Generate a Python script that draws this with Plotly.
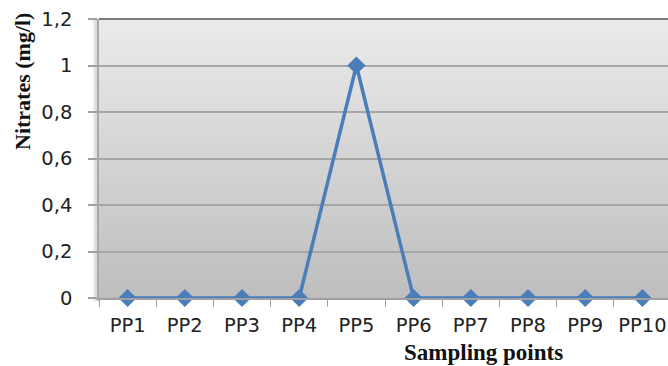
import plotly.graph_objects as go

categories = ["PP1", "PP2", "PP3", "PP4", "PP5", "PP6", "PP7", "PP8", "PP9", "PP10"]
nitrates = [0, 0, 0, 0, 1, 0, 0, 0, 0, 0]
y_tickvals = [0, 0.2, 0.4, 0.6, 0.8, 1.0, 1.2]
y_ticktext = ["0", "0,2", "0,4", "0,6", "0,8", "1", "1,2"]
x_title = "Sampling points"
y_title = "Nitrates (mg/l)"

fig = go.Figure()
fig.add_trace(go.Scatter(
    x=categories, y=nitrates, mode="lines+markers",
    line=dict(color="#4a7ebb", width=3.5),
    marker=dict(symbol="diamond", size=14, color="#4a7ebb"),
    cliponaxis=False, showlegend=False, hoverinfo="skip",
))

shapes = []
# gradient background of plot area (top light, bottom darker); overlapping bands avoid seams
n = 70
top = (235, 235, 235)
bot = (190, 190, 190)
for i in range(n):
    t = 1 - i / n  # i=0 -> bottom (darkest)
    c = tuple(round(top[k] + (bot[k] - top[k]) * t) for k in range(3))
    shapes.append(dict(type="rect", xref="x domain", yref="y domain",
                       x0=0, x1=1, y0=i / n, y1=1,
                       fillcolor="rgb(%d,%d,%d)" % c, line=dict(width=0), layer="below"))
# soft shadow left and below plot area
for j, col in enumerate(["#c8c8c8", "#dcdcdc", "#ececec"]):
    shapes.append(dict(type="rect", xref="paper", yref="paper",
                       x0=-(j + 1) * 0.0035, x1=-j * 0.0035, y0=-0.012, y1=1,
                       fillcolor=col, line=dict(width=0), layer="below"))
# top border
shapes.append(dict(type="line", xref="x domain", yref="y domain", x0=0, x1=1, y0=1, y1=1,
                   line=dict(color="#7a7a7a", width=2), layer="above"))

fig.update_layout(
    width=668, height=366,
    margin=dict(l=99, r=0, t=19, b=68),
    paper_bgcolor="white", plot_bgcolor="rgba(0,0,0,0)",
    shapes=shapes,
    xaxis=dict(type="category", range=[-0.5, 9.447], tickson="boundaries",
               ticks="outside", ticklen=7, tickcolor="#a0a0a0", tickwidth=1,
               showline=True, linecolor="#a0a0a0", linewidth=1.5,
               showgrid=False, zeroline=False, ticklabelstandoff=9,
               tickfont=dict(family="DejaVu Sans", size=19.5, color="#222222")),
    yaxis=dict(range=[0, 1.2], tickvals=y_tickvals, ticktext=y_ticktext,
               ticks="outside", ticklen=9, tickcolor="#a0a0a0", tickwidth=1.5,
               showline=True, linecolor="#a8a8a8", linewidth=1.5,
               showgrid=True, gridcolor="#a6a6a6", gridwidth=1.5, zeroline=False,
               ticklabelstandoff=12,
               tickfont=dict(family="DejaVu Sans", size=19.5, color="#222222")),
    annotations=[
        dict(text=x_title, xref="paper", yref="paper", x=(483 - 99) / 569, y=-(352 - 298) / 279,
             showarrow=False, xanchor="center", yanchor="middle",
             font=dict(family="Liberation Serif", size=23, color="#111111", weight="bold")),
        dict(text=y_title, xref="paper", yref="paper", x=-(99 - 22) / 569, y=(298 - 82) / 279,
             textangle=-90, showarrow=False, xanchor="center", yanchor="middle",
             font=dict(family="Liberation Serif", size=22, color="#111111", weight="bold")),
    ],
)

fig.write_html("out.html", config={"displayModeBar": False},
               post_script="document.body.style.margin='0';")
